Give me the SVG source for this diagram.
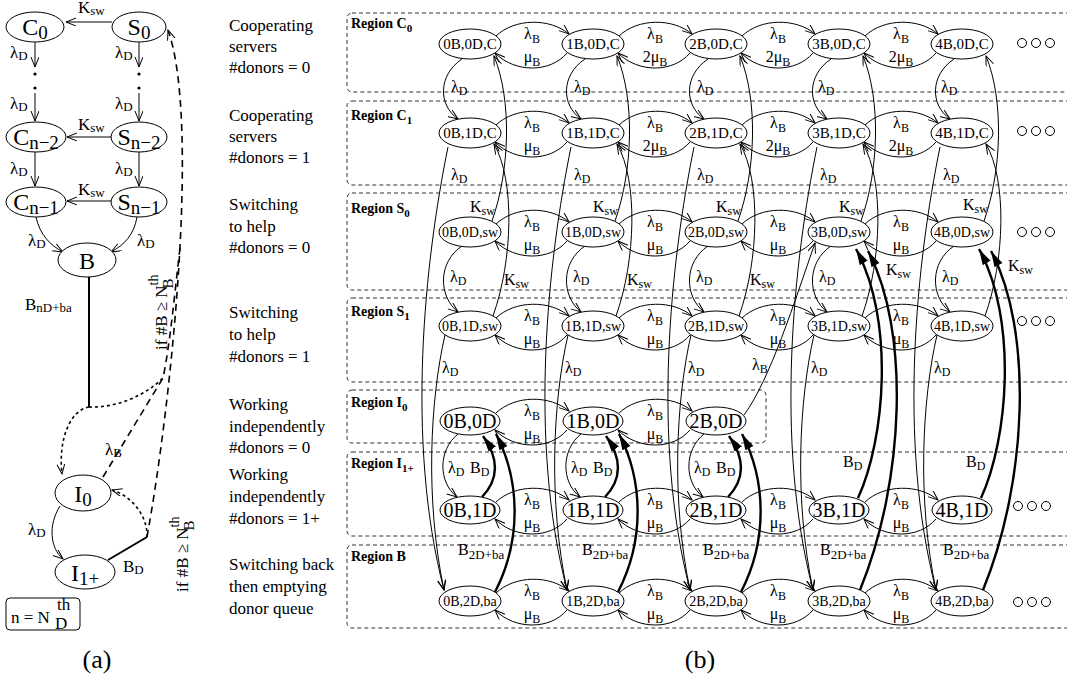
<svg xmlns="http://www.w3.org/2000/svg" width="1067" height="682" viewBox="0 0 1067 682">
<style>
.n{fill:#fff;stroke:#000;stroke-width:1}
.nt{font-family:"Liberation Serif",serif;font-size:15px;text-anchor:middle}
.ns{font-family:"Liberation Serif",serif;font-size:14px;text-anchor:middle}
.ni{font-family:"Liberation Serif",serif;font-size:20px;text-anchor:middle}
.e{fill:none;stroke:#000;stroke-width:1;marker-end:url(#a)}
.th{fill:none;stroke:#000;stroke-width:2.4;marker-end:url(#A)}
.tl{fill:none;stroke:#000;stroke-width:2}
.dt{fill:none;stroke:#000;stroke-width:1.6;stroke-dasharray:3 3}
.ds{fill:none;stroke:#000;stroke-width:1.6;stroke-dasharray:7 5}
.l{font-family:"Liberation Serif",serif;font-size:16px}
.lm{font-family:"Liberation Serif",serif;font-size:16px;text-anchor:middle}
.s{font-size:12px}
.rg{fill:none;stroke:#333;stroke-width:1;stroke-dasharray:4 3}
.rl{font-family:"Liberation Serif",serif;font-size:14px;font-weight:bold}
.rs{font-size:11px}
.d{font-family:"Liberation Serif",serif;font-size:17px}
.an{font-family:"Liberation Serif",serif;font-size:24px;text-anchor:middle}
.as{font-size:19px}
.al{font-family:"Liberation Serif",serif;font-size:17px}
.cap{font-family:"Liberation Serif",serif;font-size:26px;text-anchor:middle}
.dot{fill:none;stroke:#000;stroke-width:1}
</style>
<defs>
<marker id="a" markerUnits="userSpaceOnUse" markerWidth="12" markerHeight="10" refX="10" refY="4" orient="auto"><path d="M0,0 L10,4 L0,8" fill="none" stroke="#000" stroke-width="1"/></marker>
<marker id="A" markerUnits="userSpaceOnUse" markerWidth="18" markerHeight="10" refX="16" refY="4.5" orient="auto"><path d="M0,0 L16,4.5 L0,9 z" fill="#000"/></marker>
</defs>
<rect width="1067" height="682" fill="#fff"/>

<!-- ================= (a) ================= -->
<g id="a-connectors">
<path class="e" d="M112,22 L66,22"/>
<path class="e" d="M112,137 L67,137"/>
<path class="e" d="M112,201 L67,201"/>
<path class="e" d="M35,42 L35,67"/>
<path class="e" d="M35,93 L35,121"/>
<path class="e" d="M35,152 L35,186"/>
<path class="e" d="M139,42 L139,67"/>
<path class="e" d="M139,93 L139,121"/>
<path class="e" d="M139,152 L139,186"/>
<circle cx="35" cy="74" r="1.6"/><circle cx="35" cy="88" r="1.6"/>
<circle cx="139" cy="74" r="1.6"/><circle cx="139" cy="88" r="1.6"/>
<path class="e" d="M36,217 C40,235 50,245 63,252"/>
<path class="e" d="M137,217 C134,235 124,245 111,252"/>
<path class="tl" d="M89,277 L89,407"/>
<path class="dt" d="M89,407 C110,408 140,400 163,378"/>
<path class="dt" d="M89,407 C70,410 58,440 62,474" marker-end="url(#a)"/>
<path class="dt" d="M147,537 C148,515 130,495 112,490" marker-end="url(#a)"/>
<path class="ds" d="M103,477 L163,378 C170,345 175,290 180,248"/>
<path class="ds" d="M147,537 C172,400 200,120 168,30" marker-end="url(#a)"/>
<path class="tl" d="M108,560 L147,537"/>
<path class="e" d="M60,506 C48,525 50,548 63,559"/>
</g>
<g id="a-labels">
<text class="al" x="78" y="13">K<tspan font-size="13" dy="2">sw</tspan></text>
<text class="al" x="78" y="130">K<tspan font-size="13" dy="2">sw</tspan></text>
<text class="al" x="78" y="195">K<tspan font-size="13" dy="2">sw</tspan></text>
<text class="al" x="10" y="58">λ<tspan font-size="13" dy="2">D</tspan></text>
<text class="al" x="10" y="109">λ<tspan font-size="13" dy="2">D</tspan></text>
<text class="al" x="10" y="174">λ<tspan font-size="13" dy="2">D</tspan></text>
<text class="al" x="115" y="58">λ<tspan font-size="13" dy="2">D</tspan></text>
<text class="al" x="115" y="109">λ<tspan font-size="13" dy="2">D</tspan></text>
<text class="al" x="115" y="174">λ<tspan font-size="13" dy="2">D</tspan></text>
<text class="al" x="28" y="246">λ<tspan font-size="13" dy="2">D</tspan></text>
<text class="al" x="137" y="246">λ<tspan font-size="13" dy="2">D</tspan></text>
<text class="al" x="25" y="310">B<tspan font-size="13" dy="2">nD+ba</tspan></text>
<text class="al" x="105" y="455">λ<tspan font-size="13" dy="2">B</tspan></text>
<text class="al" x="28" y="535">λ<tspan font-size="13" dy="2">D</tspan></text>
<text class="al" x="123" y="572">B<tspan font-size="13" dy="2">D</tspan></text>
<text class="al" font-size="20" transform="translate(167,350) rotate(-90)">if #B ≥ N<tspan font-size="14" dy="-9">th</tspan><tspan font-size="15" dx="-14" dy="15">B</tspan></text>
<text class="al" font-size="20" transform="translate(188,592) rotate(-90)">if #B ≥ N<tspan font-size="14" dy="-9">th</tspan><tspan font-size="15" dx="-14" dy="15">B</tspan></text>
<rect x="6" y="598" width="74" height="32" rx="4" fill="none" stroke="#000" stroke-width="1"/>
<text class="al" font-size="18" x="11" y="623">n = N</text>
<text class="al" font-size="12" x="57" y="610">th</text>
<text class="al" font-size="13" x="55" y="629">D</text>
<text class="cap" x="97" y="668">(a)</text>
</g>
<g id="a-C0"><ellipse class="n" cx="35" cy="27" rx="29" ry="15"/><text class="an" x="35" y="35">C<tspan class="as" dy="4">0</tspan></text></g>
<g id="a-S0"><ellipse class="n" cx="139" cy="27" rx="27" ry="15"/><text class="an" x="139" y="35">S<tspan class="as" dy="4">0</tspan></text></g>
<g id="a-Cn2"><ellipse class="n" cx="36" cy="137" rx="30" ry="15"/><text class="an" x="36" y="145">C<tspan class="as" dy="4">n−2</tspan></text></g>
<g id="a-Sn2"><ellipse class="n" cx="139" cy="137" rx="28" ry="15"/><text class="an" x="139" y="145">S<tspan class="as" dy="4">n−2</tspan></text></g>
<g id="a-Cn1"><ellipse class="n" cx="36" cy="202" rx="30" ry="15"/><text class="an" x="36" y="210">C<tspan class="as" dy="4">n−1</tspan></text></g>
<g id="a-Sn1"><ellipse class="n" cx="139" cy="202" rx="28" ry="15"/><text class="an" x="139" y="210">S<tspan class="as" dy="4">n−1</tspan></text></g>
<g id="a-B"><ellipse class="n" cx="87" cy="260" rx="29" ry="17"/><text class="an" font-size="26" x="87" y="269">B</text></g>
<g id="a-I0"><ellipse class="n" cx="83" cy="493" rx="28" ry="18"/><text class="an" font-size="26" x="83" y="502">I<tspan class="as" dy="4">0</tspan></text></g>
<g id="a-I1"><ellipse class="n" cx="85" cy="572" rx="30" ry="17"/><text class="an" font-size="26" x="85" y="581">I<tspan class="as" dy="4">1+</tspan></text></g>

<!-- ================= (b) ================= -->
<g id="descriptions" class="d">
<text x="229" y="31">Cooperating</text><text x="229" y="52">servers</text><text x="229" y="73">#donors = 0</text>
<text x="229" y="121">Cooperating</text><text x="229" y="142">servers</text><text x="229" y="163">#donors = 1</text>
<text x="229" y="210">Switching</text><text x="229" y="232">to help</text><text x="229" y="253">#donors = 0</text>
<text x="229" y="318">Switching</text><text x="229" y="340">to help</text><text x="229" y="362">#donors = 1</text>
<text x="229" y="410">Working</text><text x="229" y="432">independently</text><text x="229" y="453">#donors = 0</text>
<text x="229" y="480">Working</text><text x="229" y="502">independently</text><text x="229" y="524">#donors = 1+</text>
<text x="229" y="570">Switching back</text><text x="229" y="592">then emptying</text><text x="229" y="614">donor queue</text>
</g>
<g id="regions">
<rect class="rg" x="347" y="13" width="730" height="79" rx="5"/>
<rect class="rg" x="347" y="101" width="730" height="84" rx="5"/>
<rect class="rg" x="347" y="193" width="730" height="97" rx="5"/>
<rect class="rg" x="347" y="298" width="730" height="84" rx="5"/>
<rect class="rg" x="347" y="390" width="419" height="53" rx="5"/>
<rect class="rg" x="347" y="452" width="730" height="84" rx="5"/>
<rect class="rg" x="347" y="545" width="730" height="83" rx="5"/>
<text class="rl" x="351" y="28">Region C<tspan class="rs" dy="4">0</tspan></text>
<text class="rl" x="351" y="120">Region C<tspan class="rs" dy="4">1</tspan></text>
<text class="rl" x="351" y="213">Region S<tspan class="rs" dy="4">0</tspan></text>
<text class="rl" x="351" y="316">Region S<tspan class="rs" dy="4">1</tspan></text>
<text class="rl" x="351" y="407">Region I<tspan class="rs" dy="4">0</tspan></text>
<text class="rl" x="351" y="468">Region I<tspan class="rs" dy="4">1+</tspan></text>
<text class="rl" x="351" y="561">Region B</text>
</g>

<g id="connectors">
<path class="e" d="M496,36 c19,-18 54,-18 73,-2"/><path class="e" d="M567,53 c-17,20 -52,20 -72,0"/>
<path class="e" d="M619,36 c19,-18 54,-18 73,-2"/><path class="e" d="M690,53 c-17,20 -52,20 -72,0"/>
<path class="e" d="M742,36 c19,-18 54,-18 73,-2"/><path class="e" d="M813,53 c-17,20 -52,20 -72,0"/>
<path class="e" d="M865,36 c19,-18 54,-18 73,-2"/><path class="e" d="M936,53 c-17,20 -52,20 -72,0"/>
<path class="e" d="M496,125 c19,-18 54,-18 73,-2"/><path class="e" d="M567,142 c-17,20 -52,20 -72,0"/>
<path class="e" d="M619,125 c19,-18 54,-18 73,-2"/><path class="e" d="M690,142 c-17,20 -52,20 -72,0"/>
<path class="e" d="M742,125 c19,-18 54,-18 73,-2"/><path class="e" d="M813,142 c-17,20 -52,20 -72,0"/>
<path class="e" d="M865,125 c19,-18 54,-18 73,-2"/><path class="e" d="M936,142 c-17,20 -52,20 -72,0"/>
<path class="e" d="M496,224 c19,-18 54,-18 73,-2"/><path class="e" d="M567,241 c-17,20 -52,20 -72,0"/>
<path class="e" d="M619,224 c19,-18 54,-18 73,-2"/><path class="e" d="M690,241 c-17,20 -52,20 -72,0"/>
<path class="e" d="M742,224 c19,-18 54,-18 73,-2"/><path class="e" d="M813,241 c-17,20 -52,20 -72,0"/>
<path class="e" d="M865,224 c19,-18 54,-18 73,-2"/><path class="e" d="M936,241 c-17,20 -52,20 -72,0"/>
<path class="e" d="M496,318 c19,-18 54,-18 73,-2"/><path class="e" d="M567,335 c-17,20 -52,20 -72,0"/>
<path class="e" d="M619,318 c19,-18 54,-18 73,-2"/><path class="e" d="M690,335 c-17,20 -52,20 -72,0"/>
<path class="e" d="M742,318 c19,-18 54,-18 73,-2"/><path class="e" d="M813,335 c-17,20 -52,20 -72,0"/>
<path class="e" d="M865,318 c19,-18 54,-18 73,-2"/><path class="e" d="M936,335 c-17,20 -52,20 -72,0"/>
<path class="e" d="M496,413 c19,-18 54,-18 73,-2"/><path class="e" d="M567,430 c-17,20 -52,20 -72,0"/>
<path class="e" d="M619,413 c19,-18 54,-18 73,-2"/><path class="e" d="M690,430 c-17,20 -52,20 -72,0"/>
<path class="e" d="M496,502 c19,-18 54,-18 73,-2"/><path class="e" d="M567,519 c-17,20 -52,20 -72,0"/>
<path class="e" d="M619,502 c19,-18 54,-18 73,-2"/><path class="e" d="M690,519 c-17,20 -52,20 -72,0"/>
<path class="e" d="M742,502 c19,-18 54,-18 73,-2"/><path class="e" d="M813,519 c-17,20 -52,20 -72,0"/>
<path class="e" d="M865,502 c19,-18 54,-18 73,-2"/><path class="e" d="M936,519 c-17,20 -52,20 -72,0"/>
<path class="e" d="M496,593 c19,-18 54,-18 73,-2"/><path class="e" d="M567,610 c-17,20 -52,20 -72,0"/>
<path class="e" d="M619,593 c19,-18 54,-18 73,-2"/><path class="e" d="M690,610 c-17,20 -52,20 -72,0"/>
<path class="e" d="M742,593 c19,-18 54,-18 73,-2"/><path class="e" d="M813,610 c-17,20 -52,20 -72,0"/>
<path class="e" d="M865,593 c19,-18 54,-18 73,-2"/><path class="e" d="M936,610 c-17,20 -52,20 -72,0"/>

<path class="e" d="M462,59 c-24,16 -24,46 -4,60"/><path class="e" d="M585,59 c-24,16 -24,46 -4,60"/><path class="e" d="M708,59 c-24,16 -24,46 -4,60"/><path class="e" d="M831,59 c-24,16 -24,46 -4,60"/><path class="e" d="M954,59 c-24,16 -24,46 -4,60"/>
<path class="e" d="M462,246 c-24,16 -24,50 -4,66"/><path class="e" d="M585,246 c-24,16 -24,50 -4,66"/><path class="e" d="M708,246 c-24,16 -24,50 -4,66"/><path class="e" d="M831,246 c-24,16 -24,50 -4,66"/><path class="e" d="M954,246 c-24,16 -24,50 -4,66"/>
<path class="e" d="M458,434 c-20,16 -20,48 -1,63"/><path class="e" d="M581,434 c-20,16 -20,48 -1,63"/><path class="e" d="M704,434 c-20,16 -20,48 -1,63"/>
<path class="e" d="M448,147 c-23,113 -43,293 -4,443"/><path class="e" d="M571,147 c-23,113 -43,293 -4,443"/><path class="e" d="M694,147 c-23,113 -43,293 -4,443"/><path class="e" d="M817,147 c-23,113 -43,293 -4,443"/><path class="e" d="M940,147 c-23,113 -43,293 -4,443"/>
<path class="e" d="M445,335 c-15,65 -20,165 -1,255"/><path class="e" d="M568,335 c-15,65 -20,165 -1,255"/><path class="e" d="M691,335 c-15,65 -20,165 -1,255"/><path class="e" d="M814,335 c-15,65 -20,165 -1,255"/><path class="e" d="M937,335 c-15,65 -20,165 -1,255"/>
<path class="e" d="M492,221 c18,-51 20,-121 2,-165"/><path class="e" d="M615,221 c18,-51 20,-121 2,-165"/><path class="e" d="M738,221 c18,-51 20,-121 2,-165"/><path class="e" d="M861,221 c18,-51 20,-121 2,-165"/><path class="e" d="M984,221 c18,-51 20,-121 2,-165"/>
<path class="e" d="M493,316 c20,-56 22,-136 1,-172"/><path class="e" d="M616,316 c20,-56 22,-136 1,-172"/><path class="e" d="M739,316 c20,-56 22,-136 1,-172"/><path class="e" d="M862,316 c20,-56 22,-136 1,-172"/><path class="e" d="M985,316 c20,-56 22,-136 1,-172"/>
<path class="e" d="M744,415 C770,380 795,300 815,243"/>
<path class="th" d="M482,497 c18,-19 16,-40 1,-61"/><path class="th" d="M605,497 c18,-19 16,-40 1,-61"/><path class="th" d="M728,497 c18,-19 16,-40 1,-61"/>
<path class="th" d="M495,592 c27,-52 25,-112 1,-158"/><path class="th" d="M618,592 c27,-52 25,-112 1,-158"/><path class="th" d="M741,592 c27,-52 25,-112 1,-158"/>
<path class="th" d="M858,498 c27,-58 37,-178 -2,-249"/><path class="th" d="M981,498 c27,-58 37,-178 -2,-249"/>
<path class="th" d="M860,590 c45,-110 50,-260 8,-339"/><path class="th" d="M983,590 c45,-110 50,-260 8,-339"/>
</g>

<g id="edge-labels">
<text class="lm" x="532" y="39">λ<tspan class="s" dy="4">B</tspan></text><text class="lm" x="532" y="62">μ<tspan class="s" dy="4">B</tspan></text>
<text class="lm" x="655" y="39">λ<tspan class="s" dy="4">B</tspan></text><text class="lm" x="655" y="62">2μ<tspan class="s" dy="4">B</tspan></text>
<text class="lm" x="778" y="39">λ<tspan class="s" dy="4">B</tspan></text><text class="lm" x="778" y="62">2μ<tspan class="s" dy="4">B</tspan></text>
<text class="lm" x="901" y="39">λ<tspan class="s" dy="4">B</tspan></text><text class="lm" x="901" y="62">2μ<tspan class="s" dy="4">B</tspan></text>
<text class="lm" x="532" y="128">λ<tspan class="s" dy="4">B</tspan></text><text class="lm" x="532" y="151">μ<tspan class="s" dy="4">B</tspan></text>
<text class="lm" x="655" y="128">λ<tspan class="s" dy="4">B</tspan></text><text class="lm" x="655" y="151">2μ<tspan class="s" dy="4">B</tspan></text>
<text class="lm" x="778" y="128">λ<tspan class="s" dy="4">B</tspan></text><text class="lm" x="778" y="151">2μ<tspan class="s" dy="4">B</tspan></text>
<text class="lm" x="901" y="128">λ<tspan class="s" dy="4">B</tspan></text><text class="lm" x="901" y="151">2μ<tspan class="s" dy="4">B</tspan></text>
<text class="lm" x="532" y="227">λ<tspan class="s" dy="4">B</tspan></text><text class="lm" x="532" y="250">μ<tspan class="s" dy="4">B</tspan></text>
<text class="lm" x="655" y="227">λ<tspan class="s" dy="4">B</tspan></text><text class="lm" x="655" y="250">μ<tspan class="s" dy="4">B</tspan></text>
<text class="lm" x="778" y="227">λ<tspan class="s" dy="4">B</tspan></text><text class="lm" x="778" y="250">μ<tspan class="s" dy="4">B</tspan></text>
<text class="lm" x="901" y="227">λ<tspan class="s" dy="4">B</tspan></text><text class="lm" x="901" y="250">μ<tspan class="s" dy="4">B</tspan></text>
<text class="lm" x="532" y="321">λ<tspan class="s" dy="4">B</tspan></text><text class="lm" x="532" y="344">μ<tspan class="s" dy="4">B</tspan></text>
<text class="lm" x="655" y="321">λ<tspan class="s" dy="4">B</tspan></text><text class="lm" x="655" y="344">μ<tspan class="s" dy="4">B</tspan></text>
<text class="lm" x="778" y="321">λ<tspan class="s" dy="4">B</tspan></text><text class="lm" x="778" y="344">μ<tspan class="s" dy="4">B</tspan></text>
<text class="lm" x="901" y="321">λ<tspan class="s" dy="4">B</tspan></text><text class="lm" x="901" y="344">μ<tspan class="s" dy="4">B</tspan></text>
<text class="lm" x="532" y="416">λ<tspan class="s" dy="4">B</tspan></text><text class="lm" x="532" y="439">μ<tspan class="s" dy="4">B</tspan></text>
<text class="lm" x="655" y="416">λ<tspan class="s" dy="4">B</tspan></text><text class="lm" x="655" y="439">μ<tspan class="s" dy="4">B</tspan></text>
<text class="lm" x="532" y="505">λ<tspan class="s" dy="4">B</tspan></text><text class="lm" x="532" y="528">μ<tspan class="s" dy="4">B</tspan></text>
<text class="lm" x="655" y="505">λ<tspan class="s" dy="4">B</tspan></text><text class="lm" x="655" y="528">μ<tspan class="s" dy="4">B</tspan></text>
<text class="lm" x="778" y="505">λ<tspan class="s" dy="4">B</tspan></text><text class="lm" x="778" y="528">μ<tspan class="s" dy="4">B</tspan></text>
<text class="lm" x="901" y="505">λ<tspan class="s" dy="4">B</tspan></text><text class="lm" x="901" y="528">μ<tspan class="s" dy="4">B</tspan></text>
<text class="lm" x="532" y="596">λ<tspan class="s" dy="4">B</tspan></text><text class="lm" x="532" y="619">μ<tspan class="s" dy="4">B</tspan></text>
<text class="lm" x="655" y="596">λ<tspan class="s" dy="4">B</tspan></text><text class="lm" x="655" y="619">μ<tspan class="s" dy="4">B</tspan></text>
<text class="lm" x="778" y="596">λ<tspan class="s" dy="4">B</tspan></text><text class="lm" x="778" y="619">μ<tspan class="s" dy="4">B</tspan></text>
<text class="lm" x="901" y="596">λ<tspan class="s" dy="4">B</tspan></text><text class="lm" x="901" y="619">μ<tspan class="s" dy="4">B</tspan></text>
<text class="l" x="451" y="92">λ<tspan class="s" dy="3">D</tspan></text><text class="l" x="574" y="92">λ<tspan class="s" dy="3">D</tspan></text><text class="l" x="697" y="92">λ<tspan class="s" dy="3">D</tspan></text><text class="l" x="818" y="92">λ<tspan class="s" dy="3">D</tspan></text><text class="l" x="941" y="92">λ<tspan class="s" dy="3">D</tspan></text>
<text class="l" x="451" y="180">λ<tspan class="s" dy="3">D</tspan></text><text class="l" x="574" y="180">λ<tspan class="s" dy="3">D</tspan></text><text class="l" x="697" y="180">λ<tspan class="s" dy="3">D</tspan></text><text class="l" x="820" y="180">λ<tspan class="s" dy="3">D</tspan></text><text class="l" x="943" y="180">λ<tspan class="s" dy="3">D</tspan></text>
<text class="l" x="450" y="282">λ<tspan class="s" dy="3">D</tspan></text><text class="l" x="573" y="282">λ<tspan class="s" dy="3">D</tspan></text><text class="l" x="696" y="282">λ<tspan class="s" dy="3">D</tspan></text><text class="l" x="819" y="282">λ<tspan class="s" dy="3">D</tspan></text><text class="l" x="942" y="282">λ<tspan class="s" dy="3">D</tspan></text>
<text class="l" x="442" y="373">λ<tspan class="s" dy="3">D</tspan></text><text class="l" x="565" y="373">λ<tspan class="s" dy="3">D</tspan></text><text class="l" x="688" y="373">λ<tspan class="s" dy="3">D</tspan></text><text class="l" x="811" y="373">λ<tspan class="s" dy="3">D</tspan></text><text class="l" x="934" y="373">λ<tspan class="s" dy="3">D</tspan></text>
<text class="l" x="448" y="473">λ<tspan class="s" dy="3">D</tspan></text><text class="l" x="571" y="473">λ<tspan class="s" dy="3">D</tspan></text><text class="l" x="694" y="473">λ<tspan class="s" dy="3">D</tspan></text>
<text class="l" x="752" y="370">λ<tspan class="s" dy="3">B</tspan></text>
<text class="l" x="470" y="212">K<tspan class="s" dy="3">sw</tspan></text><text class="l" x="593" y="212">K<tspan class="s" dy="3">sw</tspan></text><text class="l" x="716" y="212">K<tspan class="s" dy="3">sw</tspan></text><text class="l" x="839" y="212">K<tspan class="s" dy="3">sw</tspan></text><text class="l" x="963" y="210">K<tspan class="s" dy="3">sw</tspan></text>
<text class="l" x="504" y="285">K<tspan class="s" dy="3">sw</tspan></text><text class="l" x="627" y="285">K<tspan class="s" dy="3">sw</tspan></text><text class="l" x="750" y="285">K<tspan class="s" dy="3">sw</tspan></text><text class="l" x="886" y="275">K<tspan class="s" dy="3">sw</tspan></text><text class="l" x="1008" y="271">K<tspan class="s" dy="3">sw</tspan></text>
<text class="l" x="470" y="473">B<tspan class="s" dy="3">D</tspan></text><text class="l" x="593" y="473">B<tspan class="s" dy="3">D</tspan></text><text class="l" x="716" y="473">B<tspan class="s" dy="3">D</tspan></text>
<text class="l" x="843" y="467">B<tspan class="s" dy="3">D</tspan></text><text class="l" x="966" y="467">B<tspan class="s" dy="3">D</tspan></text>
<text class="l" x="458" y="555">B<tspan font-size="13" dy="4">2D+ba</tspan></text><text class="l" x="582" y="555">B<tspan font-size="13" dy="4">2D+ba</tspan></text><text class="l" x="703" y="555">B<tspan font-size="13" dy="4">2D+ba</tspan></text><text class="l" x="820" y="555">B<tspan font-size="13" dy="4">2D+ba</tspan></text><text class="l" x="943" y="555">B<tspan font-size="13" dy="4">2D+ba</tspan></text>
</g>

<g id="nodes">
<g id="n0B0DC"><ellipse class="n" cx="470" cy="44" rx="31" ry="15"/><text class="nt" x="470" y="49">0B,0D,C</text></g>
<g id="n1B0DC"><ellipse class="n" cx="593" cy="44" rx="31" ry="15"/><text class="nt" x="593" y="49">1B,0D,C</text></g>
<g id="n2B0DC"><ellipse class="n" cx="716" cy="44" rx="31" ry="15"/><text class="nt" x="716" y="49">2B,0D,C</text></g>
<g id="n3B0DC"><ellipse class="n" cx="839" cy="44" rx="31" ry="15"/><text class="nt" x="839" y="49">3B,0D,C</text></g>
<g id="n4B0DC"><ellipse class="n" cx="962" cy="44" rx="31" ry="15"/><text class="nt" x="962" y="49">4B,0D,C</text></g>
<g id="n0B1DC"><ellipse class="n" cx="470" cy="133" rx="31" ry="15"/><text class="nt" x="470" y="138">0B,1D,C</text></g>
<g id="n1B1DC"><ellipse class="n" cx="593" cy="133" rx="31" ry="15"/><text class="nt" x="593" y="138">1B,1D,C</text></g>
<g id="n2B1DC"><ellipse class="n" cx="716" cy="133" rx="31" ry="15"/><text class="nt" x="716" y="138">2B,1D,C</text></g>
<g id="n3B1DC"><ellipse class="n" cx="839" cy="133" rx="31" ry="15"/><text class="nt" x="839" y="138">3B,1D,C</text></g>
<g id="n4B1DC"><ellipse class="n" cx="962" cy="133" rx="31" ry="15"/><text class="nt" x="962" y="138">4B,1D,C</text></g>
<g id="n0B0Dsw"><ellipse class="n" cx="470" cy="232" rx="31" ry="15"/><text class="ns" x="470" y="237">0B,0D,sw</text></g>
<g id="n1B0Dsw"><ellipse class="n" cx="593" cy="232" rx="31" ry="15"/><text class="ns" x="593" y="237">1B,0D,sw</text></g>
<g id="n2B0Dsw"><ellipse class="n" cx="716" cy="232" rx="31" ry="15"/><text class="ns" x="716" y="237">2B,0D,sw</text></g>
<g id="n3B0Dsw"><ellipse class="n" cx="839" cy="232" rx="31" ry="15"/><text class="ns" x="839" y="237">3B,0D,sw</text></g>
<g id="n4B0Dsw"><ellipse class="n" cx="962" cy="232" rx="31" ry="15"/><text class="ns" x="962" y="237">4B,0D,sw</text></g>
<g id="n0B1Dsw"><ellipse class="n" cx="470" cy="326" rx="31" ry="15"/><text class="ns" x="470" y="331">0B,1D,sw</text></g>
<g id="n1B1Dsw"><ellipse class="n" cx="593" cy="326" rx="31" ry="15"/><text class="ns" x="593" y="331">1B,1D,sw</text></g>
<g id="n2B1Dsw"><ellipse class="n" cx="716" cy="326" rx="31" ry="15"/><text class="ns" x="716" y="331">2B,1D,sw</text></g>
<g id="n3B1Dsw"><ellipse class="n" cx="839" cy="326" rx="31" ry="15"/><text class="ns" x="839" y="331">3B,1D,sw</text></g>
<g id="n4B1Dsw"><ellipse class="n" cx="962" cy="326" rx="31" ry="15"/><text class="ns" x="962" y="331">4B,1D,sw</text></g>
<g id="n0B0D"><ellipse class="n" cx="470" cy="421" rx="30" ry="14"/><text class="ni" x="470" y="428">0B,0D</text></g>
<g id="n1B0D"><ellipse class="n" cx="593" cy="421" rx="30" ry="14"/><text class="ni" x="593" y="428">1B,0D</text></g>
<g id="n2B0D"><ellipse class="n" cx="716" cy="421" rx="30" ry="14"/><text class="ni" x="716" y="428">2B,0D</text></g>
<g id="n0B1D"><ellipse class="n" cx="470" cy="510" rx="30" ry="14"/><text class="ni" x="470" y="517">0B,1D</text></g>
<g id="n1B1D"><ellipse class="n" cx="593" cy="510" rx="30" ry="14"/><text class="ni" x="593" y="517">1B,1D</text></g>
<g id="n2B1D"><ellipse class="n" cx="716" cy="510" rx="30" ry="14"/><text class="ni" x="716" y="517">2B,1D</text></g>
<g id="n3B1D"><ellipse class="n" cx="839" cy="510" rx="30" ry="14"/><text class="ni" x="839" y="517">3B,1D</text></g>
<g id="n4B1D"><ellipse class="n" cx="962" cy="510" rx="30" ry="14"/><text class="ni" x="962" y="517">4B,1D</text></g>
<g id="n0B2Dba"><ellipse class="n" cx="470" cy="601" rx="31" ry="15"/><text class="ns" x="470" y="606">0B,2D,ba</text></g>
<g id="n1B2Dba"><ellipse class="n" cx="593" cy="601" rx="31" ry="15"/><text class="ns" x="593" y="606">1B,2D,ba</text></g>
<g id="n2B2Dba"><ellipse class="n" cx="716" cy="601" rx="31" ry="15"/><text class="ns" x="716" y="606">2B,2D,ba</text></g>
<g id="n3B2Dba"><ellipse class="n" cx="839" cy="601" rx="31" ry="15"/><text class="ns" x="839" y="606">3B,2D,ba</text></g>
<g id="n4B2Dba"><ellipse class="n" cx="962" cy="601" rx="31" ry="15"/><text class="ns" x="962" y="606">4B,2D,ba</text></g>
</g>
<g id="ellipsis">
<circle class="dot" cx="1022" cy="43" r="4.5"/><circle class="dot" cx="1036" cy="43" r="4.5"/><circle class="dot" cx="1050" cy="43" r="4.5"/>
<circle class="dot" cx="1022" cy="131" r="4.5"/><circle class="dot" cx="1036" cy="131" r="4.5"/><circle class="dot" cx="1050" cy="131" r="4.5"/>
<circle class="dot" cx="1022" cy="232" r="4.5"/><circle class="dot" cx="1036" cy="232" r="4.5"/><circle class="dot" cx="1050" cy="232" r="4.5"/>
<circle class="dot" cx="1022" cy="321" r="4.5"/><circle class="dot" cx="1036" cy="321" r="4.5"/><circle class="dot" cx="1050" cy="321" r="4.5"/>
<circle class="dot" cx="1018" cy="506" r="4.5"/><circle class="dot" cx="1032" cy="506" r="4.5"/><circle class="dot" cx="1046" cy="506" r="4.5"/>
<circle class="dot" cx="1018" cy="602" r="4.5"/><circle class="dot" cx="1032" cy="602" r="4.5"/><circle class="dot" cx="1046" cy="602" r="4.5"/>
</g>
<text class="cap" x="700" y="668">(b)</text>
</svg>
